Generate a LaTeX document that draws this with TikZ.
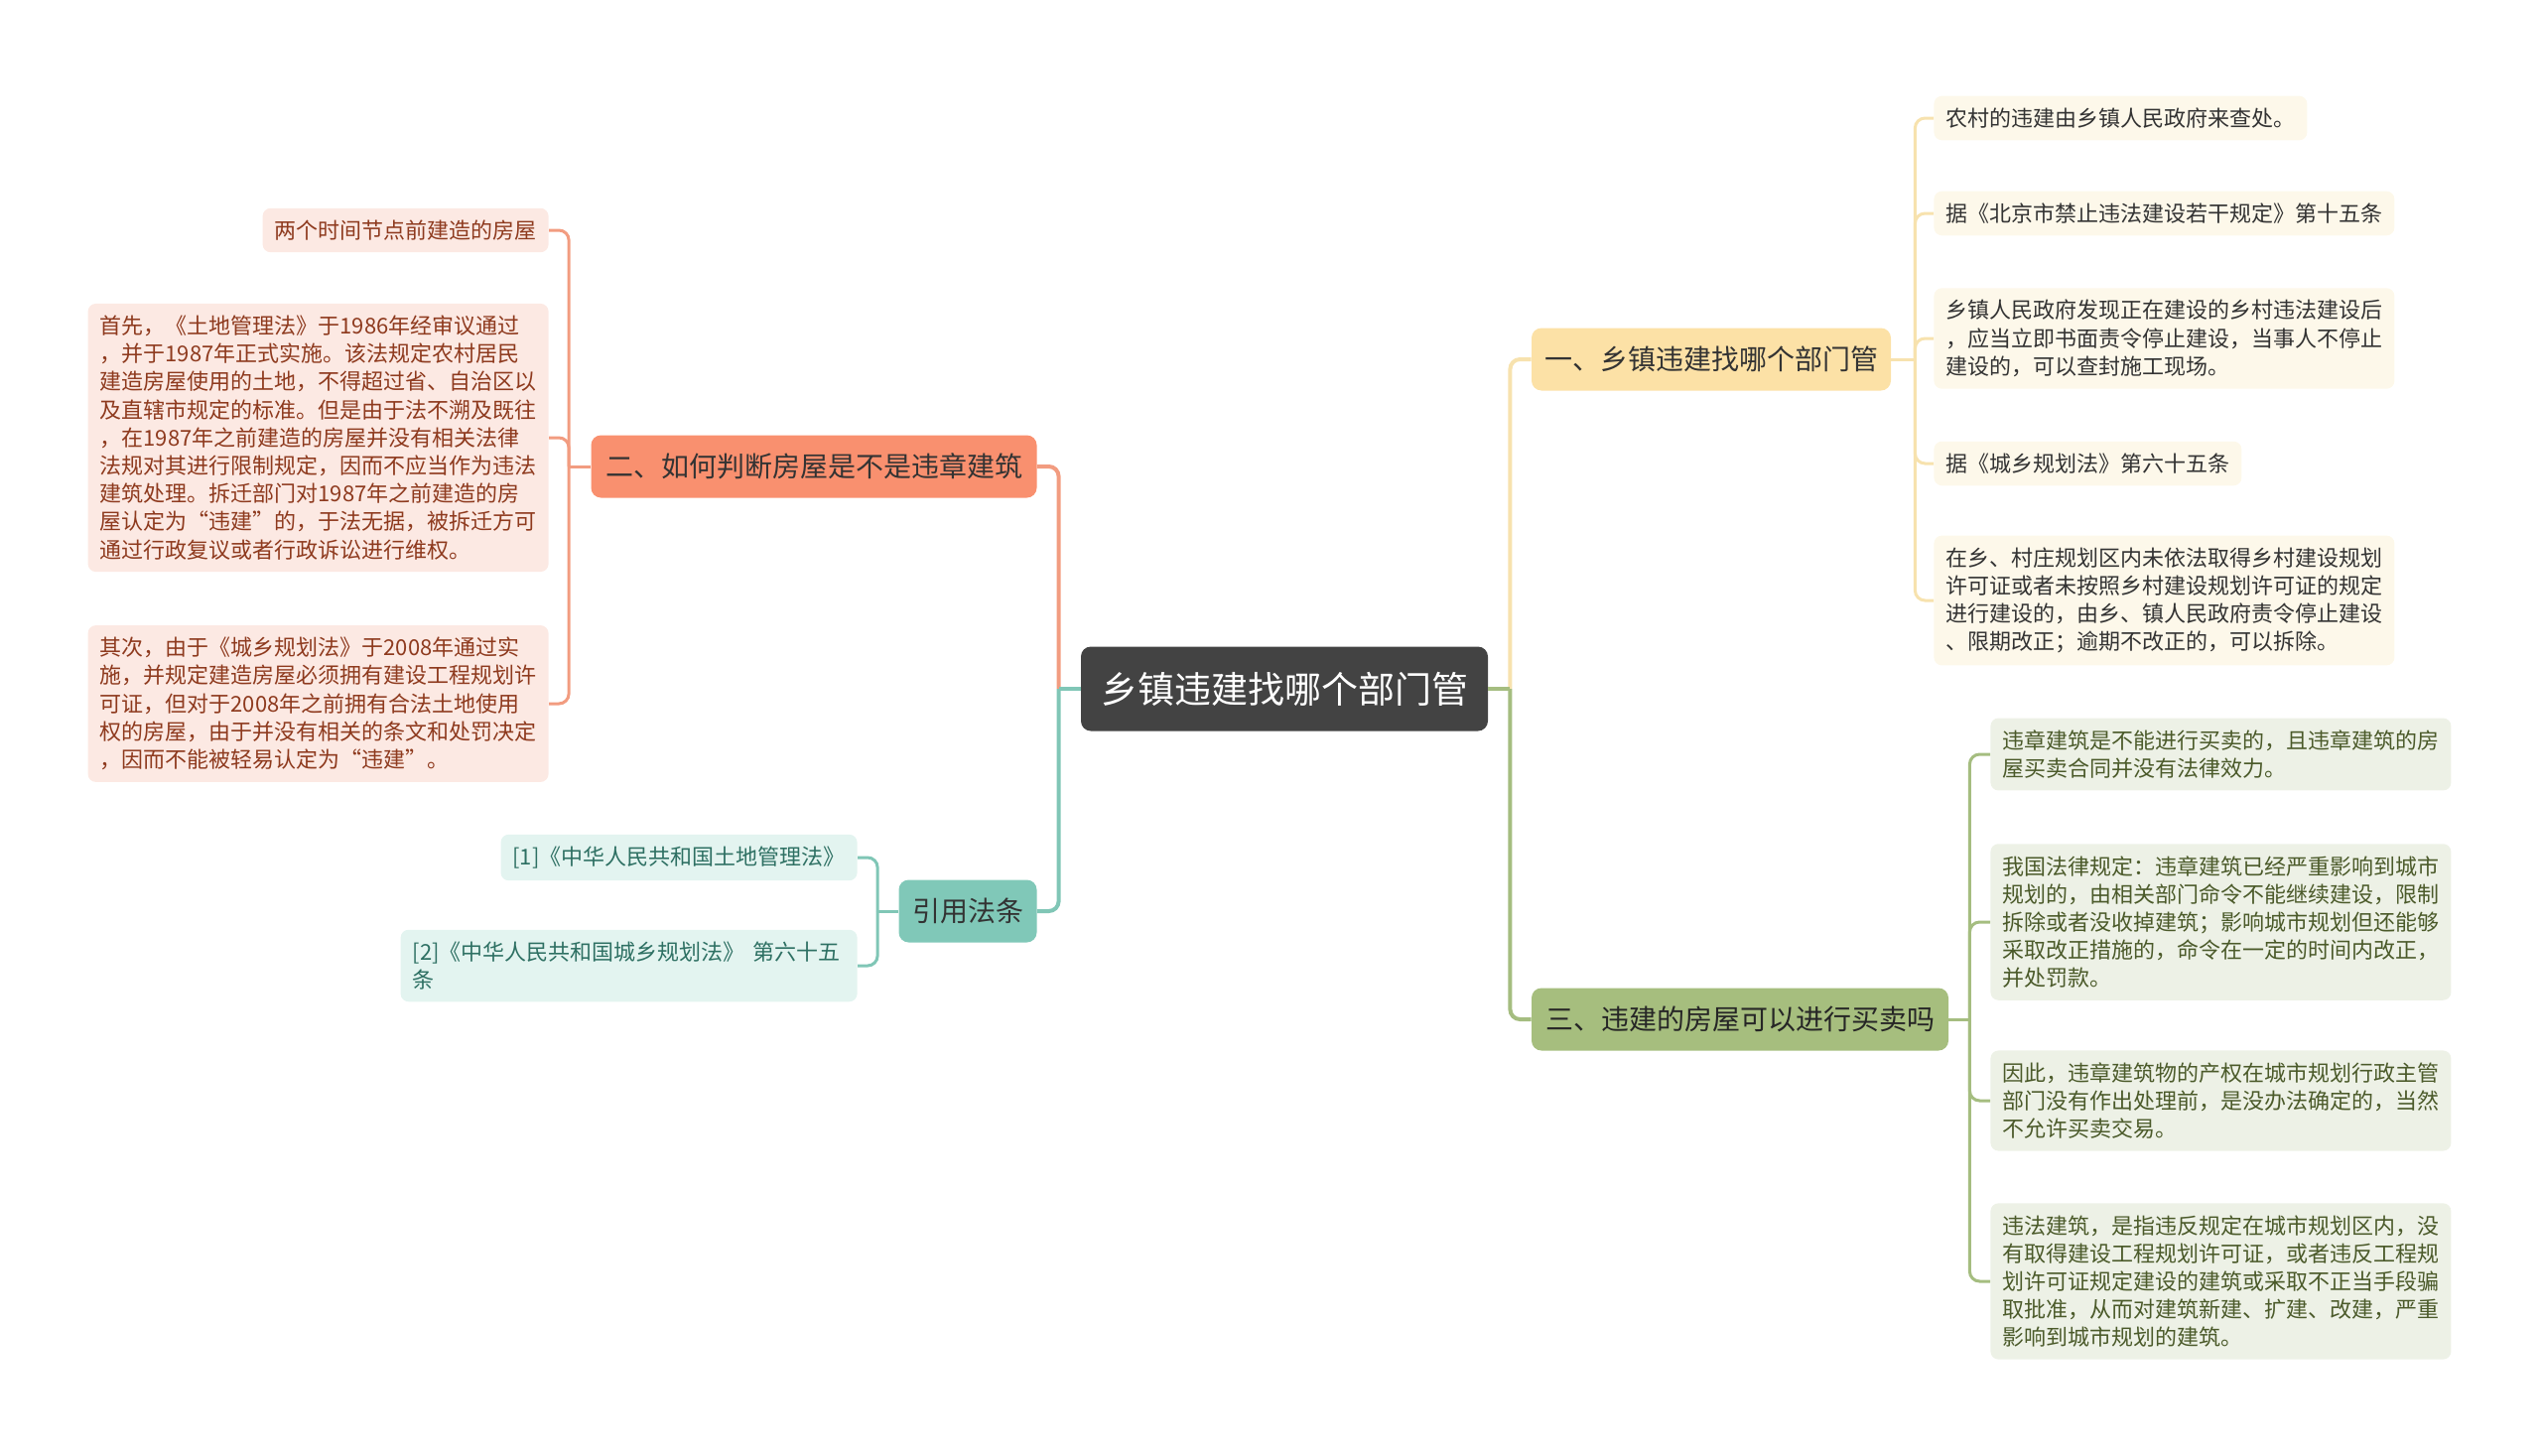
\documentclass[tikz,border=0pt]{standalone}
\usepackage{fontspec}
\setmainfont{Noto Sans CJK SC}
\definecolor{rootfill}{HTML}{434343}
\definecolor{onefill}{HTML}{FCE1A6}
\definecolor{oneline}{HTML}{F7E2AE}
\definecolor{oneleaf}{HTML}{FDF8EA}
\definecolor{twofill}{HTML}{F9906F}
\definecolor{twoline}{HTML}{F29C80}
\definecolor{twoleaf}{HTML}{FCE9E3}
\definecolor{twotext}{HTML}{8E3A1E}
\definecolor{threefill}{HTML}{A6BE7E}
\definecolor{threeline}{HTML}{A5BD80}
\definecolor{threeleaf}{HTML}{EDF1E6}
\definecolor{threetext}{HTML}{4B5A2A}
\definecolor{lawfill}{HTML}{80C8B8}
\definecolor{lawline}{HTML}{80C6B6}
\definecolor{lawleaf}{HTML}{E3F4F0}
\definecolor{lawtext}{HTML}{2E7063}
\begin{document}
\begin{tikzpicture}[x=0.5pt, y=-0.5pt,
	leaf/.style={rounded corners=4pt, inner xsep=6pt, inner ysep=6pt, align=left,
		font=\fontsize{11}{14.1}\selectfont},
	branch/.style={rounded corners=5pt, inner sep=0pt, minimum height=31.5pt,
		font=\fontsize{14}{16}\selectfont},
	link/.style={line width=1.5pt},
	mainlink/.style={line width=2pt}
]
	\useasboundingbox (0,0) rectangle (2560,1467);
	
	% Root
	\node[fill=rootfill, text=white, rounded corners=5pt, minimum width=205pt, minimum height=42.5pt,
		inner sep=0pt, font=\fontsize{18.5}{20}\selectfont] (root) at (1294,694) {乡镇违建找哪个部门管};
	
	% Branches
	\node[branch, fill=onefill, text=black!80, minimum width=181pt] (one) at (1724,362) {一、乡镇违建找哪个部门管};
	\node[branch, fill=twofill, text=black!80, minimum width=224.5pt] (two) at (820,470) {二、如何判断房屋是不是违章建筑};
	\node[branch, fill=threefill, text=black!85, minimum width=210pt] (three) at (1753,1027) {三、违建的房屋可以进行买卖吗};
	\node[branch, fill=lawfill, text=black!80, minimum width=69.5pt] (law) at (975,918) {引用法条};
	
	% Leaves of one
	\node[leaf, fill=oneleaf, text=black!80, anchor=west] (one1) at (1948,119) {农村的违建由乡镇人民政府来查处。};
	\node[leaf, fill=oneleaf, text=black!80, anchor=west] (one2) at (1948,215) {据《北京市禁止违法建设若干规定》第十五条};
	\node[leaf, fill=oneleaf, text=black!80, anchor=west] (one3) at (1948,341) {乡镇人民政府发现正在建设的乡村违法建设后\\，应当立即书面责令停止建设，当事人不停止\\建设的，可以查封施工现场。};
	\node[leaf, fill=oneleaf, text=black!80, anchor=west] (one4) at (1948,467) {据《城乡规划法》第六十五条};
	\node[leaf, fill=oneleaf, text=black!80, anchor=west] (one5) at (1948,605) {在乡、村庄规划区内未依法取得乡村建设规划\\许可证或者未按照乡村建设规划许可证的规定\\进行建设的，由乡、镇人民政府责令停止建设\\、限期改正；逾期不改正的，可以拆除。};
	
	% Leaves of two
	\node[leaf, fill=twoleaf, text=twotext, anchor=east] (two1) at (553,232) {两个时间节点前建造的房屋};
	\node[leaf, fill=twoleaf, text=twotext, anchor=east] (two2) at (553,441) {首先，《土地管理法》于1986年经审议通过\\，并于1987年正式实施。该法规定农村居民\\建造房屋使用的土地，不得超过省、自治区以\\及直辖市规定的标准。但是由于法不溯及既往\\，在1987年之前建造的房屋并没有相关法律\\法规对其进行限制规定，因而不应当作为违法\\建筑处理。拆迁部门对1987年之前建造的房\\屋认定为“违建”的，于法无据，被拆迁方可\\通过行政复议或者行政诉讼进行维权。};
	\node[leaf, fill=twoleaf, text=twotext, anchor=east] (two3) at (553,709) {其次，由于《城乡规划法》于2008年通过实\\施，并规定建造房屋必须拥有建设工程规划许\\可证，但对于2008年之前拥有合法土地使用\\权的房屋，由于并没有相关的条文和处罚决定\\，因而不能被轻易认定为“违建”。};
	
	% Leaves of three
	\node[leaf, fill=threeleaf, text=threetext, anchor=west] (three1) at (2005,760) {违章建筑是不能进行买卖的，且违章建筑的房\\屋买卖合同并没有法律效力。};
	\node[leaf, fill=threeleaf, text=threetext, anchor=west] (three2) at (2005,929) {我国法律规定：违章建筑已经严重影响到城市\\规划的，由相关部门命令不能继续建设，限制\\拆除或者没收掉建筑；影响城市规划但还能够\\采取改正措施的，命令在一定的时间内改正，\\并处罚款。};
	\node[leaf, fill=threeleaf, text=threetext, anchor=west] (three3) at (2005,1109) {因此，违章建筑物的产权在城市规划行政主管\\部门没有作出处理前，是没办法确定的，当然\\不允许买卖交易。};
	\node[leaf, fill=threeleaf, text=threetext, anchor=west] (three4) at (2005,1291) {违法建筑，是指违反规定在城市规划区内，没\\有取得建设工程规划许可证，或者违反工程规\\划许可证规定建设的建筑或采取不正当手段骗\\取批准，从而对建筑新建、扩建、改建，严重\\影响到城市规划的建筑。};
	
	% Leaves of law
	\node[leaf, fill=lawleaf, text=lawtext, anchor=east] (law1) at (864,864) {[1]《中华人民共和国土地管理法》};
	\node[leaf, fill=lawleaf, text=lawtext, anchor=east, text width=218pt] (law2) at (864,973) {[2]《中华人民共和国城乡规划法》 第六十五\\条};
	
	% Root connectors
	\path (root.west) ++(-22,0) coordinate (jl);
	\path (root.east) ++(22,0) coordinate (jr);
	\draw[mainlink, twoline, rounded corners=5pt] (jl) |- (two.east);
	\draw[mainlink, lawline, rounded corners=5pt] (jl) |- (law.east);
	\draw[mainlink, lawline] (root.west) -- (jl);
	\draw[mainlink, oneline, rounded corners=5pt] (jr) |- (one.west);
	\draw[mainlink, threeline, rounded corners=5pt] (jr) |- (three.west);
	\draw[mainlink, threeline] (root.east) -- (jr);
	
	% Leaf connectors
	\path (one.east) ++(24,0) coordinate (j1);
	\draw[link, oneline] (one.east) -- (j1);
	\foreach \n in {one1,one2,one3,one4,one5}
		\draw[link, oneline, rounded corners=5pt] (j1) |- (\n.west);
	
	\path (two.west) ++(-22,0) coordinate (j2);
	\draw[link, twoline] (two.west) -- (j2);
	\foreach \n in {two1,two2,two3}
		\draw[link, twoline, rounded corners=5pt] (j2) |- (\n.east);
	
	\path (three.east) ++(21,0) coordinate (j3);
	\draw[link, threeline] (three.east) -- (j3);
	\foreach \n in {three1,three2,three3,three4}
		\draw[link, threeline, rounded corners=5pt] (j3) |- (\n.west);
	
	\path (law.west) ++(-21,0) coordinate (j4);
	\draw[link, lawline] (law.west) -- (j4);
	\foreach \n in {law1,law2}
		\draw[link, lawline, rounded corners=5pt] (j4) |- (\n.east);
\end{tikzpicture}
\end{document}
